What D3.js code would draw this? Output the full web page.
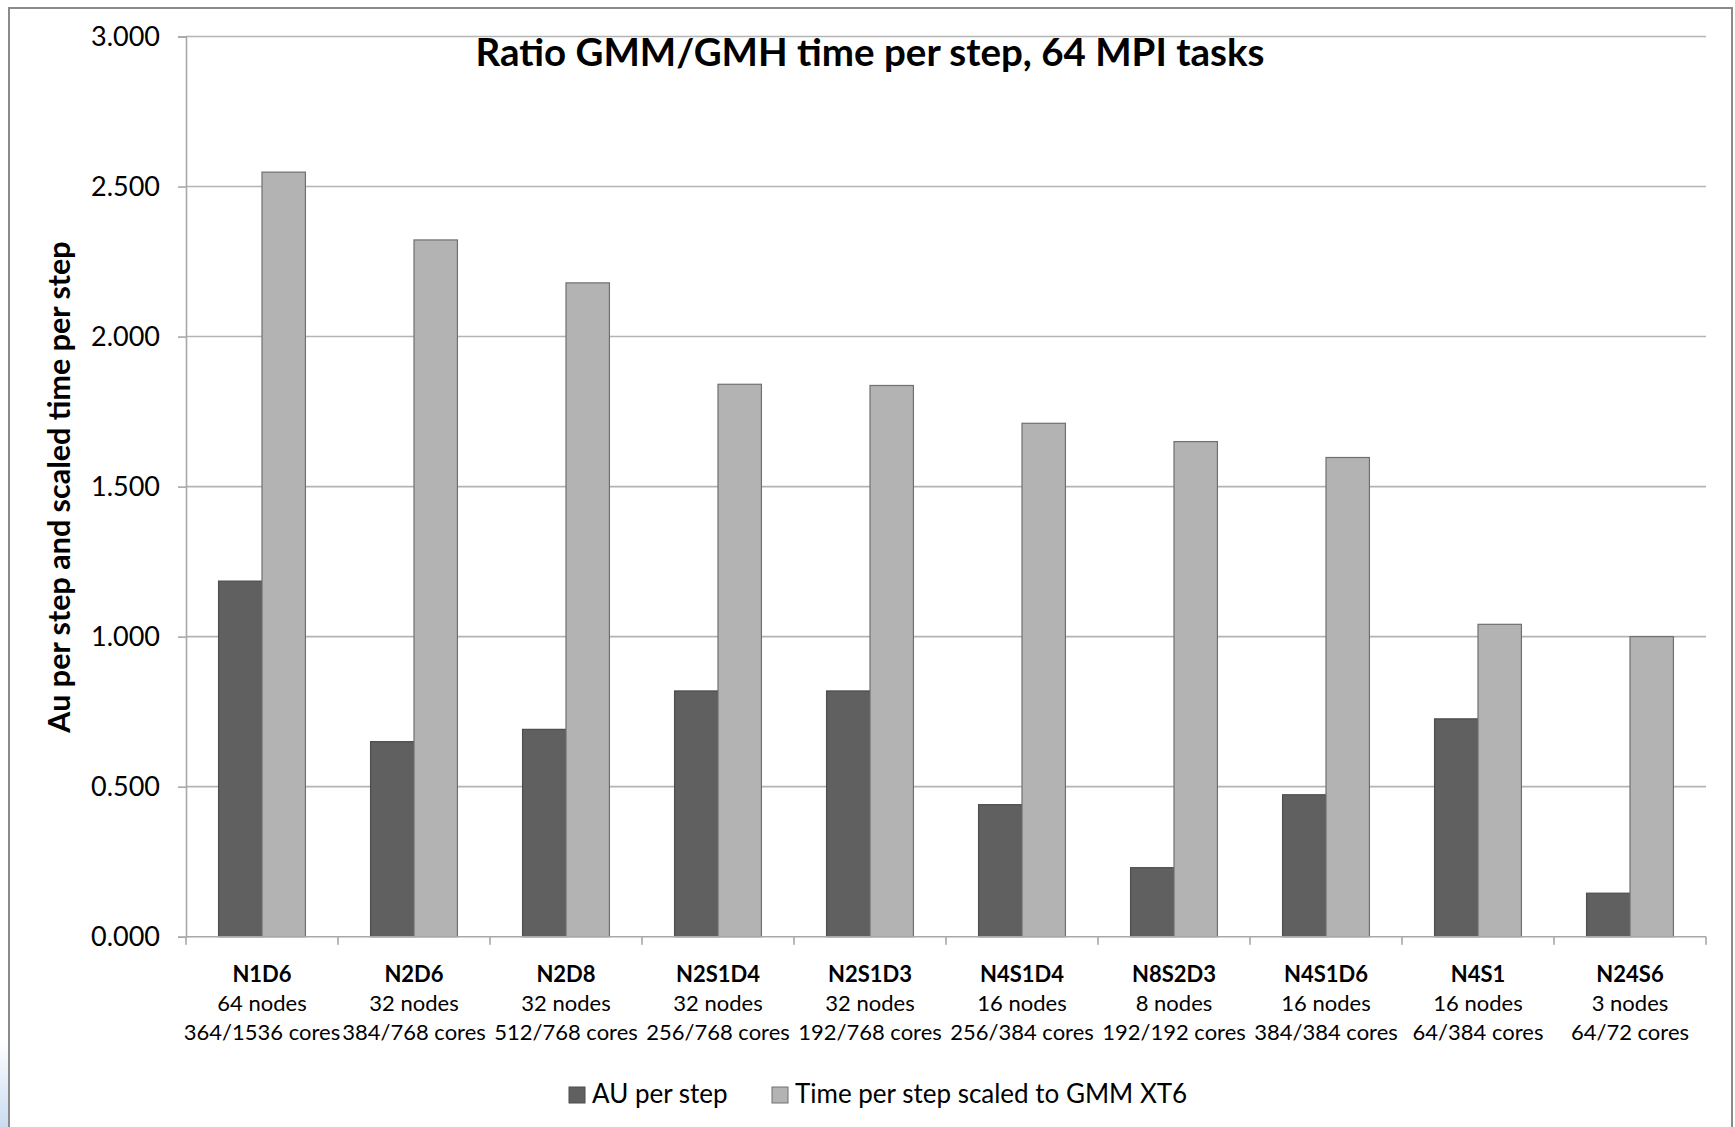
<!DOCTYPE html>
<html>
<head>
<meta charset="utf-8">
<script src="https://cdn.jsdelivr.net/npm/d3@7"></script>
<style>
  html, body { margin: 0; padding: 0; background: #ffffff; }
  svg { display: block; }
  text { font-family: Lato, "Noto Sans", sans-serif; fill: #000; }
</style>
</head>
<body>
<svg id="chart" width="1735" height="1127"></svg>
<script>
// Configurations along the category axis (three label lines per group)
const configs   = ["N1D6", "N2D6", "N2D8", "N2S1D4", "N2S1D3", "N4S1D4", "N8S2D3", "N4S1D6", "N4S1", "N24S6"];
const nodeLines = ["64 nodes", "32 nodes", "32 nodes", "32 nodes", "32 nodes", "16 nodes", "8 nodes", "16 nodes", "16 nodes", "3 nodes"];
const coreLines = ["364/1536 cores", "384/768 cores", "512/768 cores", "256/768 cores", "192/768 cores",
                   "256/384 cores", "192/192 cores", "384/384 cores", "64/384 cores", "64/72 cores"];

// Series values
const auPerStep  = [1.185, 0.650, 0.691, 0.819, 0.819, 0.440, 0.230, 0.473, 0.726, 0.145];
const scaledTime = [2.548, 2.322, 2.179, 1.841, 1.837, 1.711, 1.650, 1.597, 1.041, 1.000];

const seriesNames  = ["AU per step", "Time per step scaled to GMM XT6"];
const seriesColors = ["#606060", "#b3b3b3"];

const yTicks = [0, 0.5, 1.0, 1.5, 2.0, 2.5, 3.0];

const chartTitle = "Ratio GMM/GMH time per step, 64 MPI tasks";
const yTitle = "Au per step and scaled time per step";

// ---- layout ----
const W = 1735, H = 1127;
const plot = { left: 186, right: 1706, top: 36.5, bottom: 936.7 };

const svg = d3.select("#chart");

// window backdrop corner and chart frame
const defs = svg.append("defs");
const grad = defs.append("linearGradient").attr("id", "corner").attr("x1", 0).attr("y1", 0).attr("x2", 0).attr("y2", 1);
grad.append("stop").attr("offset", "0%").attr("stop-color", "#ffffff");
grad.append("stop").attr("offset", "100%").attr("stop-color", "#c9dcf2");
svg.append("rect").attr("x", 0).attr("y", 1040).attr("width", 9).attr("height", H - 1040).attr("fill", "url(#corner)");

svg.append("path")
  .attr("d", `M9,${H} V8 H1732 V${H}`)
  .attr("fill", "#ffffff")
  .attr("stroke", "#8a8a8a")
  .attr("stroke-width", 2);

// ---- scales ----
const x0 = d3.scaleBand().domain(configs).range([plot.left, plot.right]).padding(0);
const x1 = d3.scaleBand().domain(seriesNames).range([0, x0.bandwidth()]).paddingInner(0).paddingOuter(0.75);
const y  = d3.scaleLinear().domain([0, 3]).range([plot.bottom, plot.top]);

// ---- gridlines ----
svg.append("g")
  .selectAll("line")
  .data(yTicks.filter(d => d > 0))
  .join("line")
  .attr("x1", plot.left).attr("x2", plot.right)
  .attr("y1", d => y(d)).attr("y2", d => y(d))
  .attr("stroke", "#b4b4b4")
  .attr("stroke-width", 1.6);

// ---- y axis ----
const yAxis = svg.append("g")
  .attr("transform", `translate(${plot.left},0)`)
  .call(d3.axisLeft(y).tickValues(yTicks).tickFormat(d3.format(".3f")).tickSize(8).tickPadding(18));
yAxis.select(".domain").attr("stroke", "#a8a8a8").attr("stroke-width", 1.6);
yAxis.selectAll(".tick line").attr("stroke", "#a8a8a8").attr("stroke-width", 1.6);
yAxis.selectAll(".tick text")
  .attr("font-size", 27)
  .attr("font-family", "Lato, sans-serif")
  .attr("fill", "#1a1a1a");

// ---- bars ----
const rows = configs.map((c, i) => ({ config: c, values: [auPerStep[i], scaledTime[i]] }));

const groups = svg.append("g")
  .selectAll("g")
  .data(rows)
  .join("g")
  .attr("transform", d => `translate(${x0(d.config)},0)`);

groups.selectAll("rect")
  .data(d => d.values.map((v, k) => ({ series: seriesNames[k], value: v, k })))
  .join("rect")
  .attr("x", d => x1(d.series))
  .attr("width", x1.bandwidth())
  .attr("y", d => y(d.value))
  .attr("height", d => y(0) - y(d.value))
  .attr("fill", d => seriesColors[d.k])
  .attr("stroke", d => d.k === 0 ? "#4c4c4c" : "#707070")
  .attr("stroke-width", 1.2);

// ---- x axis: baseline with ticks between categories ----
svg.append("line")
  .attr("x1", plot.left).attr("x2", plot.right)
  .attr("y1", y(0)).attr("y2", y(0))
  .attr("stroke", "#a8a8a8").attr("stroke-width", 1.6);

const boundaries = configs.map(c => x0(c)).concat([x0(configs[configs.length - 1]) + x0.bandwidth()]);
svg.append("g")
  .selectAll("line")
  .data(boundaries)
  .join("line")
  .attr("x1", d => d).attr("x2", d => d)
  .attr("y1", y(0)).attr("y2", y(0) + 8)
  .attr("stroke", "#a8a8a8").attr("stroke-width", 1.6);

// category labels
const labels = svg.append("g")
  .selectAll("text")
  .data(configs.map((c, i) => ({ c, nodes: nodeLines[i], cores: coreLines[i] })))
  .join("text")
  .attr("text-anchor", "middle")
  .attr("font-size", 22)
  .attr("fill", "#111");

labels.append("tspan")
  .attr("x", d => x0(d.c) + x0.bandwidth() / 2)
  .attr("y", 982)
  .attr("font-weight", "bold")
  .text(d => d.c);
labels.append("tspan")
  .attr("x", d => x0(d.c) + x0.bandwidth() / 2)
  .attr("y", 1011)
  .text(d => d.nodes);
labels.append("tspan")
  .attr("x", d => x0(d.c) + x0.bandwidth() / 2)
  .attr("y", 1040)
  .text(d => d.cores);

// ---- titles ----
svg.append("text")
  .attr("x", 870)
  .attr("y", 66)
  .attr("text-anchor", "middle")
  .attr("font-size", 38.5)
  .attr("font-weight", "bold")
  .text(chartTitle);

svg.append("text")
  .attr("transform", `translate(70,487) rotate(-90)`)
  .attr("text-anchor", "middle")
  .attr("font-size", 30.5)
  .attr("font-weight", "bold")
  .text(yTitle);

// ---- legend ----
const legendX = [569, 772];
const legend = svg.append("g")
  .selectAll("g")
  .data(seriesNames)
  .join("g")
  .attr("transform", (d, i) => `translate(${legendX[i]},1087)`);

legend.append("rect")
  .attr("width", 16).attr("height", 16)
  .attr("fill", (d, i) => seriesColors[i])
  .attr("stroke", (d, i) => i === 0 ? "#4c4c4c" : "#707070")
  .attr("stroke-width", 1);

legend.append("text")
  .attr("x", 23)
  .attr("y", 16)
  .attr("font-size", 26)
  .attr("fill", "#111")
  .text(d => d);
</script>
</body>
</html>
